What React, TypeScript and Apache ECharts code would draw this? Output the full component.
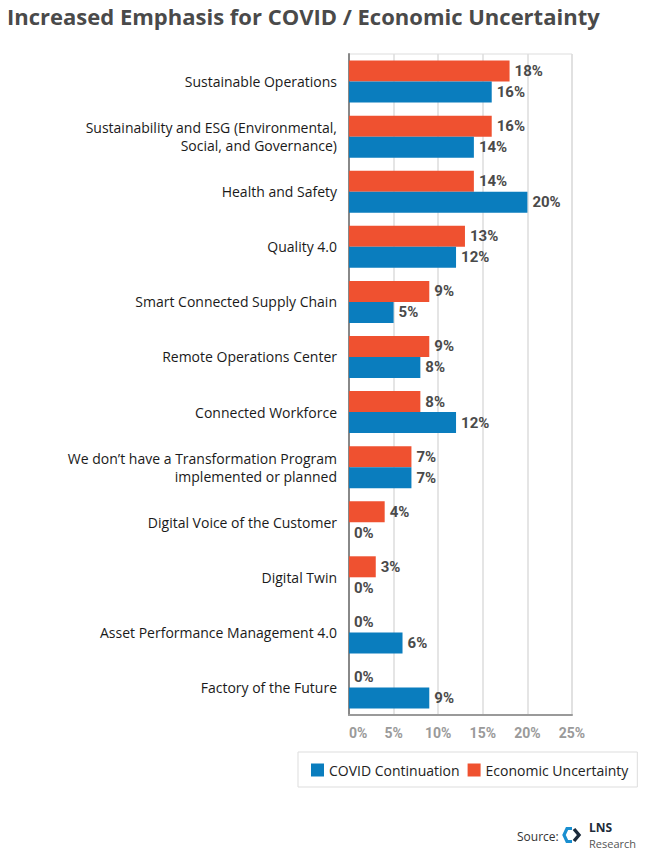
import React, { useEffect, useRef } from "react";
import * as echarts from "echarts";

const categories = [
  "Sustainable Operations",
  "Sustainability and ESG (Environmental,\nSocial, and Governance)",
  "Health and Safety",
  "Quality 4.0",
  "Smart Connected Supply Chain",
  "Remote Operations Center",
  "Connected Workforce",
  "We don\u2019t have a Transformation Program\nimplemented or planned",
  "Digital Voice of the Customer",
  "Digital Twin",
  "Asset Performance Management 4.0",
  "Factory of the Future",
];
const economicUncertainty = [18, 16, 14, 13, 9, 9, 8, 7, 4, 3, 0, 0];
const covidContinuation = [16, 14, 20, 12, 5, 8, 12, 7, 0, 0, 6, 9];
const seriesNames = ["COVID Continuation", "Economic Uncertainty"];
const axisMax = 25;
const axisInterval = 5;

const BLUE = "#0A7DBE";
const ORANGE = "#EF5130";
const NARROW = "Roboto, 'Liberation Sans', sans-serif";
const SANS = "'Open Sans', 'Noto Sans', sans-serif";

export default function App() {
  const ref = useRef<HTMLDivElement>(null);
  useEffect(() => {
    if (!ref.current) return;
    const chart = echarts.init(ref.current, null, { renderer: "svg" });
    const valueLabel = {
      show: true,
      position: "right",
      distance: 5,
      formatter: "{c}%",
      fontFamily: NARROW,
      fontWeight: "bold",
      fontSize: 15,
      color: "#4a4a4a",
    };
    chart.setOption({
      animation: false,
      backgroundColor: "#ffffff",
      title: {
        text: "Increased Emphasis for COVID / Economic Uncertainty",
        left: 2,
        top: 0,
        textStyle: {
          fontFamily: SANS,
          fontWeight: "bold",
          fontSize: 22,
          color: "#4a4a4a",
        },
      },
      grid: {
        left: 349,
        right: 78,
        top: 54,
        bottom: 137,
        show: true,
        borderColor: "#dddddd",
        borderWidth: 1,
      },
      xAxis: {
        type: "value",
        min: 0,
        max: axisMax,
        interval: axisInterval,
        axisLine: { show: true, lineStyle: { color: "#9a9a9a", width: 2 } },
        axisTick: { show: false },
        splitLine: { show: true, lineStyle: { color: "#dddddd", width: 1.5 } },
        axisLabel: {
          formatter: "{value}%",
          fontFamily: NARROW,
          fontWeight: "bold",
          fontSize: 14,
          color: "#9a9a9a",
          margin: 11,
          alignMinLabel: "left",
        },
      },
      yAxis: {
        type: "category",
        data: categories,
        inverse: true,
        axisLine: { show: true, lineStyle: { color: "#888888", width: 2 } },
        axisTick: { show: false },
        axisLabel: {
          fontFamily: SANS,
          fontSize: 14,
          fontWeight: 500,
          color: "#1a1a1a",
          margin: 12,
          lineHeight: 18,
          align: "right",
        },
      },
      legend: {
        data: seriesNames,
        left: 298,
        top: 752,
        width: 340,
        itemWidth: 13,
        itemHeight: 13,
        itemGap: 8,
        padding: [11, 9, 10, 13],
        borderColor: "#dddddd",
        borderWidth: 1,
        icon: "rect",
        textStyle: {
          fontFamily: SANS,
          fontSize: 14,
          color: "#222222",
        },
      },
      series: [
        {
          name: seriesNames[1],
          type: "bar",
          data: economicUncertainty,
          barWidth: 21,
          barGap: "0%",
          itemStyle: { color: ORANGE },
          label: valueLabel,
        },
        {
          name: seriesNames[0],
          type: "bar",
          data: covidContinuation,
          barWidth: 21,
          barGap: "0%",
          itemStyle: { color: BLUE },
          label: valueLabel,
        },
      ],
      graphic: [
        {
          type: "text",
          left: 517,
          top: 830,
          style: {
            text: "Source:",
            fontFamily: SANS,
            fontSize: 12,
            fill: "#333333",
          },
        },
        {
          type: "polyline",
          shape: {
            points: [
              [572, 828.5],
              [567, 828.5],
              [564, 835],
              [567, 841.5],
              [572, 841.5],
            ],
          },
          style: { stroke: "#1a8fd0", lineWidth: 3.2, fill: null },
        },
        {
          type: "polyline",
          shape: {
            points: [
              [574, 829],
              [579, 835],
              [574, 841],
            ],
          },
          style: { stroke: "#1d2b3a", lineWidth: 3.4, fill: null },
        },
        {
          type: "text",
          left: 589,
          top: 821,
          style: {
            text: "LNS",
            fontFamily: SANS,
            fontWeight: "bold",
            fontSize: 12,
            fill: "#1d2b3a",
          },
        },
        {
          type: "text",
          left: 589,
          top: 838,
          style: {
            text: "Research",
            fontFamily: SANS,
            fontSize: 11,
            fill: "#555555",
          },
        },
      ],
    });
    return () => chart.dispose();
  }, []);
  return (
    <div
      ref={ref}
      style={{ position: "fixed", left: 0, top: 0, width: 650, height: 852 }}
    />
  );
}
